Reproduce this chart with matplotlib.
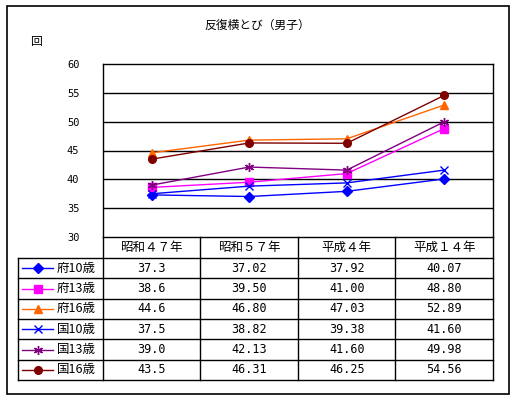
import matplotlib
matplotlib.use("Agg")
import matplotlib.pyplot as plt
from matplotlib.patches import Rectangle

plt.rcParams['font.family'] = ['Noto Sans CJK JP', 'DejaVu Sans']

title = "反復横とび（男子）"
unit = "回"
categories = ["昭和４７年", "昭和５７年", "平成４年", "平成１４年"]
series_names = ["府10歳", "府13歳", "府16歳", "国10歳", "国13歳", "国16歳"]
fu10 = [37.3, 37.02, 37.92, 40.07]
fu13 = [38.6, 39.50, 41.00, 48.80]
fu16 = [44.6, 46.80, 47.03, 52.89]
kuni10 = [37.5, 38.82, 39.38, 41.60]
kuni13 = [39.0, 42.13, 41.60, 49.98]
kuni16 = [43.5, 46.31, 46.25, 54.56]
labels_txt = [
    ["37.3", "37.02", "37.92", "40.07"],
    ["38.6", "39.50", "41.00", "48.80"],
    ["44.6", "46.80", "47.03", "52.89"],
    ["37.5", "38.82", "39.38", "41.60"],
    ["39.0", "42.13", "41.60", "49.98"],
    ["43.5", "46.31", "46.25", "54.56"],
]
yticks = [30, 35, 40, 45, 50, 55, 60]

series = [fu10, fu13, fu16, kuni10, kuni13, kuni16]
colors = ["#0000FF", "#FF00FF", "#FF6600", "#0000FF", "#800080", "#800000"]
markers = ["D", "s", "^", "x", (6, 2, 0), "o"]
msizes = [5, 5.5, 6, 5.5, 6.5, 5.5]

W, H = 516, 401
fig = plt.figure(figsize=(W / 100, H / 100), dpi=100)

def rect(x0, y0, x1, y1):
    return [x0 / W, 1 - y1 / H, (x1 - x0) / W, (y1 - y0) / H]

# outer border
fig.patches.append(Rectangle((7 / W, 1 - 394 / H), 502 / W, 388 / H, transform=fig.transFigure,
                             fill=False, ec="black", lw=1.2))

fig.text(257 / W, 1 - 25 / H, title, ha="center", va="center", fontsize=8.5)
fig.text(36 / W, 1 - 42 / H, unit, ha="center", va="center", fontsize=8.5)

px_l, px_r, px_t, px_b = 103, 493, 64, 237
ax = fig.add_axes(rect(px_l, px_t, px_r, px_b))
for i, (vals, c, m, ms) in enumerate(zip(series, colors, markers, msizes)):
    ax.plot(range(len(categories)), vals, color=c, marker=m, markersize=ms, lw=1,
            markeredgecolor=c, markerfacecolor=c, markeredgewidth=1, zorder=3)
ax.set_xlim(-0.5, len(categories) - 0.5)
ax.set_ylim(30, 60)
ax.set_yticks(yticks)
ax.set_yticklabels([str(v) for v in yticks], fontsize=7.5, family="DejaVu Sans Mono")
ax.set_xticks([])
ax.tick_params(axis="y", length=0, pad=17)
for v in yticks[1:-1]:
    ax.axhline(v, color="black", lw=1, zorder=1)
for s in ax.spines.values():
    s.set_linewidth(1)

# data table
colw = (px_r - px_l) / len(categories)
tl = 18
tb = 380
tax = fig.add_axes(rect(tl, px_b, px_r, tb))
x0 = -0.5 - (px_l - tl) / colw
tax.set_xlim(x0, len(categories) - 0.5)
tax.set_ylim(tb, px_b)
tax.axis("off")
header_bottom = 258
row_edges = [header_bottom + i * (tb - header_bottom) / len(series) for i in range(len(series) + 1)]
lk = dict(color="black", lw=1, clip_on=False)
for j in range(len(categories) + 1):
    tax.plot([j - 0.5, j - 0.5], [px_b, tb], **lk)
for y in row_edges:
    tax.plot([x0, len(categories) - 0.5], [y, y], **lk)
tax.plot([x0, x0], [header_bottom, tb], **lk)
for j, cat in enumerate(categories):
    tax.text(j, (px_b + header_bottom) / 2, cat, ha="center", va="center", fontsize=9)
for i, name in enumerate(series_names):
    yc = (row_edges[i] + row_edges[i + 1]) / 2
    xs0 = x0 + 4 / colw
    xs1 = x0 + 35 / colw
    tax.plot([xs0, xs1], [yc, yc], color=colors[i], lw=1, clip_on=False)
    tax.plot([(xs0 + xs1) / 2], [yc], marker=markers[i], color=colors[i], markersize=msizes[i],
             markeredgecolor=colors[i], markerfacecolor=colors[i], clip_on=False)
    tax.text(x0 + 39 / colw, yc, name, ha="left", va="center", fontsize=9)
    for j in range(len(categories)):
        tax.text(j, yc, labels_txt[i][j], ha="center", va="center", fontsize=8.5,
                 family="DejaVu Sans Mono")

fig.savefig("out.png", dpi=100)
